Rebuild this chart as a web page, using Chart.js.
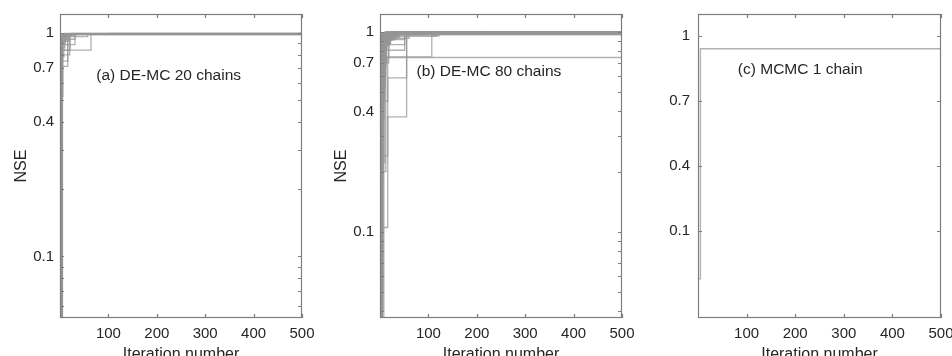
<!DOCTYPE html>
<html>
<head>
<meta charset="utf-8">
<script src="https://cdn.jsdelivr.net/npm/chart.js@4.4.0/dist/chart.umd.min.js"></script>
<style>
    html, body { margin: 0; padding: 0; background: #fff; overflow: hidden; width: 952px; height: 356px; }
    .panel { position: absolute; top: 0; }
</style>
</head>
<body>
<div class="panel" style="left:0px"><canvas id="chartA" width="320" height="380"></canvas></div>
<div class="panel" style="left:320px"><canvas id="chartB" width="320" height="380"></canvas></div>
<div class="panel" style="left:640px"><canvas id="chartC" width="330" height="380"></canvas></div>
<script>
// Axis ticks
const xTicks = [100, 200, 300, 400, 500];
const yTickLabels = [0.1, 0.4, 0.7, 1];
const yMinorA = [0.06, 0.07, 0.08, 0.09, 0.2, 0.3, 0.5, 0.6, 0.8, 0.9];
const yMinorB = [0.04, 0.05, 0.06, 0.07, 0.08, 0.09, 0.2, 0.3, 0.5, 0.6, 0.8, 0.9];
const iterMax = 500;

// Best NSE per chain: pairs of (iteration, NSE) where the value changes
const chainsA = [
    [1, 0.02, 3, 0.89, 31, 0.993],
    [1, 0.31, 4, 0.94, 31, 0.996],
    [1, 0.015, 2, 0.84, 64, 0.995],
    [1, 0.05, 3, 0.966, 57, 0.997],
    [1, 0.02, 5, 0.80, 20, 0.992],
    [1, 0.25, 3, 0.84, 21, 0.994],
    [1, 0.01, 4, 0.71, 16, 0.99],
    [1, 0.03, 3, 0.75, 16, 0.995],
    [1, 0.04, 2, 0.989, 105, 0.998],
    [1, 0.35, 2, 0.92, 9, 0.993],
    [1, 0.02, 2, 0.97, 7, 0.996],
    [1, 0.12, 3, 0.95, 12, 0.997],
    [1, 0.01, 2, 0.60, 5, 0.93, 14, 0.995],
    [1, 0.45, 3, 0.98, 24, 0.998],
    [1, 0.02, 4, 0.86, 10, 0.99],
    [1, 0.18, 2, 0.78, 8, 0.975, 31, 0.997],
    [1, 0.03, 5, 0.92, 18, 0.996],
    [1, 0.01, 3, 0.52, 6, 0.985],
    [1, 0.28, 2, 0.96, 9, 0.998],
    [1, 0.02, 2, 0.90, 11, 0.994]
];

const chainsB = [
    [1, 0.03, 2, 0.45, 16, 0.745],
    [1, 0.03, 5, 0.75, 107, 0.955, 122, 0.992],
    [1, 0.02, 2, 0.105, 16, 0.376, 55, 0.965, 118, 0.992],
    [1, 0.01, 3, 0.24, 16, 0.589, 55, 0.97, 90, 0.993],
    [1, 0.04, 6, 0.915, 51, 0.99],
    [1, 0.02, 4, 0.864, 51, 0.985],
    [1, 0.03, 8, 0.81, 51, 0.988],
    [1, 0.05, 3, 0.7, 18, 0.975, 216, 0.997],
    [1, 0.2, 12, 0.745, 18, 0.93, 60, 0.99],
    [1, 0.222, 10, 0.95, 116, 0.994],
    [1, 0.08, 2, 0.62, 9, 0.96, 40, 0.995],
    [1, 0.31, 3, 0.88, 22, 0.985],
    [1, 0.015, 2, 0.45, 6, 0.93, 30, 0.99],
    [1, 0.12, 4, 0.97, 25, 0.996],
    [1, 0.35, 2, 0.82, 11, 0.98],
    [1, 0.02, 3, 0.55, 8, 0.9, 20, 0.993],
    [1, 0.27, 5, 0.92, 14, 0.99],
    [1, 0.06, 2, 0.74, 7, 0.985],
    [1, 0.01, 2, 0.33, 4, 0.86, 12, 0.994],
    [1, 0.42, 3, 0.95, 19, 0.997],
    [1, 0.03, 2, 0.68, 5, 0.94, 28, 0.992],
    [1, 0.18, 6, 0.89, 15, 0.987],
    [1, 0.025, 3, 0.48, 10, 0.97],
    [1, 0.5, 2, 0.9, 9, 0.995],
    [1, 0.07, 4, 0.78, 13, 0.96, 35, 0.996],
    [1, 0.015, 2, 0.28, 5, 0.83, 11, 0.99],
    [1, 0.38, 4, 0.93, 17, 0.993],
    [1, 0.04, 2, 0.58, 7, 0.91, 24, 0.994],
    [1, 0.1, 3, 0.96, 12, 0.998],
    [1, 0.02, 5, 0.66, 9, 0.985],
    [1, 0.24, 2, 0.85, 8, 0.975, 45, 0.996],
    [1, 0.01, 3, 0.41, 6, 0.88, 16, 0.991],
    [1, 0.3, 2, 0.98],
    [1, 0.05, 6, 0.72, 14, 0.95, 32, 0.993],
    [1, 0.16, 3, 0.87, 10, 0.99],
    [1, 0.03, 2, 0.52, 4, 0.79, 13, 0.988],
    [1, 0.45, 5, 0.96, 21, 0.997],
    [1, 0.02, 2, 0.36, 8, 0.92, 26, 0.995],
    [1, 0.09, 4, 0.84, 11, 0.984],
    [1, 0.26, 3, 0.94, 9, 0.992],
    [1, 0.012, 2, 0.25, 5, 0.77, 10, 0.97, 38, 0.996],
    [1, 0.33, 2, 0.71, 6, 0.95, 23, 0.993],
    [1, 0.06, 3, 0.9, 15, 0.99],
    [1, 0.02, 4, 0.6, 12, 0.965, 48, 0.995],
    [1, 0.4, 2, 0.97, 16, 0.998],
    [1, 0.04, 2, 0.47, 7, 0.86, 19, 0.99],
    [1, 0.14, 5, 0.93, 27, 0.994],
    [1, 0.01, 3, 0.3, 6, 0.81, 14, 0.985],
    [1, 0.22, 2, 0.89, 10, 0.996],
    [1, 0.07, 3, 0.64, 9, 0.94, 33, 0.993],
    [1, 0.03, 2, 0.76, 5, 0.98],
    [1, 0.29, 4, 0.91, 18, 0.992],
    [1, 0.015, 2, 0.4, 6, 0.83, 12, 0.97, 42, 0.997],
    [1, 0.11, 2, 0.95, 14, 0.995],
    [1, 0.05, 4, 0.57, 8, 0.88, 20, 0.99],
    [1, 0.36, 3, 0.97, 11, 0.996],
    [1, 0.02, 2, 0.5, 5, 0.9, 17, 0.993],
    [1, 0.19, 4, 0.8, 9, 0.975],
    [1, 0.04, 3, 0.69, 13, 0.955, 29, 0.994],
    [1, 0.48, 2, 0.93, 8, 0.99],
    [1, 0.01, 2, 0.21, 4, 0.73, 10, 0.96, 36, 0.995],
    [1, 0.13, 3, 0.87, 16, 0.991],
    [1, 0.06, 2, 0.63, 6, 0.92, 22, 0.996],
    [1, 0.25, 5, 0.98, 30, 0.998],
    [1, 0.03, 3, 0.44, 7, 0.85, 18, 0.989],
    [1, 0.17, 2, 0.78, 9, 0.97],
    [1, 0.02, 4, 0.53, 11, 0.92, 34, 0.994],
    [1, 0.32, 2, 0.96, 13, 0.997],
    [1, 0.08, 3, 0.75, 8, 0.94, 25, 0.992],
    [1, 0.014, 2, 0.34, 5, 0.89, 15, 0.99],
    [1, 0.21, 3, 0.92, 12, 0.995],
    [1, 0.05, 2, 0.59, 6, 0.87, 21, 0.993],
    [1, 0.39, 4, 0.95, 10, 0.985],
    [1, 0.02, 3, 0.46, 9, 0.91, 28, 0.996],
    [1, 0.1, 2, 0.83, 7, 0.98],
    [1, 0.03, 5, 0.67, 12, 0.94, 40, 0.995],
    [1, 0.28, 2, 0.9, 11, 0.992],
    [1, 0.015, 2, 0.37, 4, 0.8, 9, 0.96, 31, 0.997],
    [1, 0.15, 3, 0.96, 18, 0.994],
    [1, 0.04, 2, 0.7, 6, 0.93, 24, 0.99]
];

const chainsC = [
    [1, -0.12, 5, 0.94]
];

const lineColor = 'rgba(150, 150, 150, 0.75)';
const frameColor = '#7d7d7d';
const textColor = '#262626';
const fontFamily = "'Liberation Sans', Arial, Helvetica, sans-serif";

Chart.defaults.font.family = fontFamily;
Chart.defaults.color = textColor;

function toPoints(chain) {
    const pts = [];
    for (let i = 0; i < chain.length; i += 2) {
        pts.push({ x: chain[i], y: chain[i + 1] });
    }
    // hold the last value until the final iteration
    pts.push({ x: iterMax, y: chain[chain.length - 1] });
    return pts;
}

// MATLAB-style box with inward ticks, plus the panel caption
const framePlugin = {
    id: 'frame',
    afterDraw(chart, args, opts) {
        const { ctx, chartArea: a, scales: { x, y } } = chart;
        ctx.save();
        ctx.strokeStyle = frameColor;
        ctx.lineWidth = 1.2;
        ctx.strokeRect(a.left + 0.5, a.top + 0.5, a.right - a.left - 1, a.bottom - a.top - 1);
        ctx.beginPath();
        xTicks.forEach(v => {
            const px = Math.round(x.getPixelForValue(v)) + 0.5;
            ctx.moveTo(px, a.bottom); ctx.lineTo(px, a.bottom - 4);
            ctx.moveTo(px, a.top); ctx.lineTo(px, a.top + 4);
        });
        yTickLabels.concat(opts.minor).forEach(v => {
            const py = Math.round(y.getPixelForValue(v)) + 0.5;
            if (py < a.top || py > a.bottom) return;
            ctx.moveTo(a.left, py); ctx.lineTo(a.left + 4, py);
            ctx.moveTo(a.right, py); ctx.lineTo(a.right - 4, py);
        });
        ctx.stroke();
        ctx.fillStyle = textColor;
        ctx.font = '15.5px ' + fontFamily;
        ctx.textAlign = 'left';
        ctx.textBaseline = 'middle';
        ctx.fillText(opts.label, x.getPixelForValue(opts.labelAt[0]), y.getPixelForValue(opts.labelAt[1]));
        ctx.restore();
    }
};

function makePanel(id, p) {
    return new Chart(document.getElementById(id), {
        type: 'line',
        data: {
            datasets: p.chains.map(c => ({
                data: toPoints(c),
                borderColor: lineColor,
                borderWidth: 1.3,
                pointRadius: 0,
                stepped: true,
                fill: false
            }))
        },
        options: {
            responsive: false,
            animation: false,
            events: [],
            layout: { padding: { top: 14, right: p.padRight, left: 0, bottom: 0 } },
            plugins: {
                legend: { display: false },
                tooltip: { enabled: false },
                frame: { minor: p.minor, label: p.label, labelAt: p.labelAt }
            },
            scales: {
                x: {
                    type: 'linear',
                    min: 0,
                    max: iterMax,
                    grid: { display: false, drawTicks: false },
                    border: { display: false },
                    ticks: { font: { size: 15 }, padding: 7, maxRotation: 0, autoSkip: false },
                    afterBuildTicks: s => { s.ticks = xTicks.map(v => ({ value: v })); },
                    afterFit: s => { s.height = 62; s.paddingLeft = 0; s.paddingRight = 0; },
                    title: { display: true, text: 'Iteration number', font: { size: 16 }, padding: { top: 0, bottom: 16 } }
                },
                y: {
                    type: p.yType,
                    min: p.yMin,
                    max: p.yMax,
                    grid: { display: false, drawTicks: false },
                    border: { display: false },
                    ticks: { font: { size: 15 }, padding: p.tickPad, autoSkip: false, callback: v => String(v) },
                    afterBuildTicks: s => { s.ticks = yTickLabels.map(v => ({ value: v })); },
                    afterFit: s => { s.width = p.axisWidth; s.paddingTop = 0; s.paddingBottom = 0; },
                    title: { display: p.showTitle, text: 'NSE', font: { size: 16 }, padding: { top: 11.5, bottom: 0 } }
                }
            }
        },
        plugins: [framePlugin]
    });
}

makePanel('chartA', {
    chains: chainsA, yType: 'logarithmic', yMin: 0.053, yMax: 1.22, minor: yMinorA,
    axisWidth: 60, padRight: 18, tickPad: 6, showTitle: true,
    label: '(a) DE-MC 20 chains', labelAt: [75, 0.645]
});
makePanel('chartB', {
    chains: chainsB, yType: 'logarithmic', yMin: 0.037, yMax: 1.23, minor: yMinorB,
    axisWidth: 60, padRight: 18, tickPad: 6, showTitle: true,
    label: '(b) DE-MC 80 chains', labelAt: [75.5, 0.633]
});
makePanel('chartC', {
    chains: chainsC, yType: 'linear', yMin: -0.3, yMax: 1.1, minor: [],
    axisWidth: 58, padRight: 29, tickPad: 8, showTitle: false,
    label: '(c) MCMC 1 chain', labelAt: [82, 0.844]
});
</script>
</body>
</html>
